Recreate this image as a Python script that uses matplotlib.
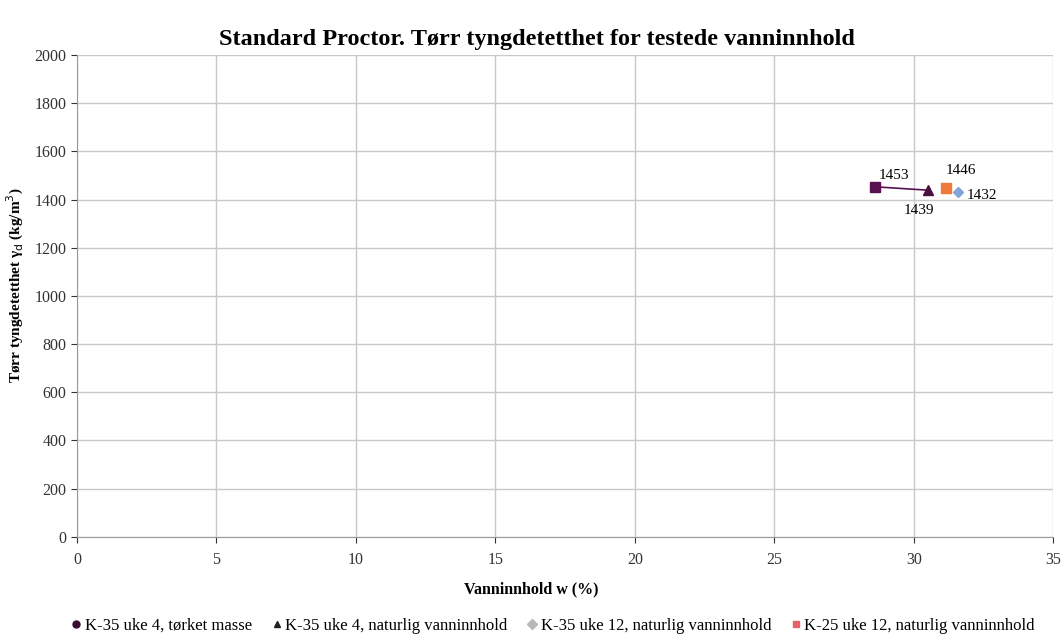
import matplotlib.pyplot as plt
import numpy as np

plt.rcParams['font.family'] = ['Liberation Serif', 'DejaVu Serif']

# series data (vanninnhold %, tørr tyngdetetthet kg/m3)
series_names = ['K-35 uke 4, tørket masse', 'K-35 uke 4, naturlig vanninnhold',
                'K-35 uke 12, naturlig vanninnhold', 'K-25 uke 12, naturlig vanninnhold']
w_values = [28.6, 30.5, 31.6, 31.15]
rho_values = [1453, 1439, 1432, 1446]
markers = ['s', '^', 'D', 's']
colors = ['#5a1050', '#4a1040', '#7fa6d6', '#ef7a3c']
legend_colors = ['#3a0a30', '#222222', '#b8b8b8', '#e8606a']

x_ticks = [0, 5, 10, 15, 20, 25, 30, 35]
y_ticks = [0, 200, 400, 600, 800, 1000, 1200, 1400, 1600, 1800, 2000]

fig = plt.figure(figsize=(10.61, 6.36), dpi=100)
ax = fig.add_axes([0.0726, 0.156, 0.92, 0.7575])

# line between the two uke 4 points
ax.plot(w_values[:2], rho_values[:2], color='#5a1050', lw=1.2, zorder=3)

for w, rho, m, c, name, lc in zip(w_values, rho_values, markers, colors, series_names, legend_colors):
    ax.plot([w], [rho], marker=m, color=c, ms=7 if m != 'D' else 5, ls='none', zorder=4)
    # legend proxy
    ax.plot([], [], marker='o' if name.startswith('K-35 uke 4, t') else m, color=lc,
            ms=5, ls='none', label=name)

# data labels
offsets = [(0.15, 45), (-0.85, -85), (0.3, -15), (0.0, 75)]
for w, rho, (dx, dy) in zip(w_values, rho_values, offsets):
    ax.text(w + dx, rho + dy, str(rho), fontsize=11, va='center', ha='left')

ax.set_xlim(0, 35)
ax.set_ylim(0, 2000)
ax.set_xticks(x_ticks)
ax.set_yticks(y_ticks)
ax.tick_params(labelsize=11.5, colors='#333333', length=4, width=0.8)
ax.tick_params(axis='x', pad=7)
ax.grid(True, color='#c8c8c8', lw=1)
ax.set_axisbelow(True)
for s in ['top', 'right']:
    ax.spines[s].set_visible(False)
for s in ['left', 'bottom']:
    ax.spines[s].set_color('#999999')

ax.set_title('Standard Proctor. Tørr tyngdetetthet for testede vanninnhold',
             fontsize=17.5, fontweight='bold', pad=7, x=0.471)
ax.set_xlabel('Vanninnhold w (%)', fontsize=11.5, fontweight='bold')
ax.xaxis.set_label_coords(0.465, -0.093)
ax.set_ylabel('Tørr tyngdetetthet γ$_{\\rm d}$ (kg/m$^3$)', fontsize=11, fontweight='bold')
ax.yaxis.set_label_coords(-0.052, 0.523)

ax.legend(loc='center', bbox_to_anchor=(0.486, -0.185), ncol=4, frameon=False,
          fontsize=12, handletextpad=0.0, columnspacing=1.0, handlelength=1.0)

fig.savefig('out.png', dpi=100)
